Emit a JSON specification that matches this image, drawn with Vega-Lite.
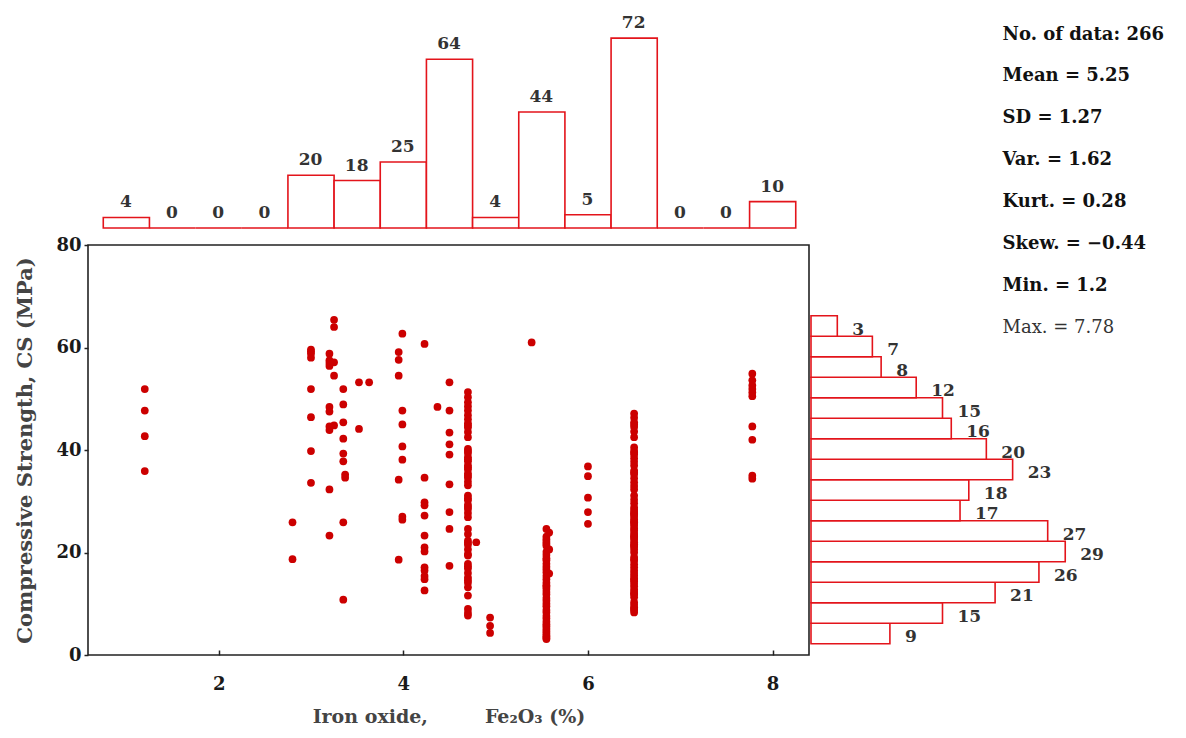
{
  "$schema": "https://vega.github.io/schema/vega-lite/v6.json",
  "background": "white",
  "padding": {"left": 14, "top": 14, "right": 5, "bottom": 5},
  "config": {
    "font": "DejaVu Serif",
    "view": {"stroke": null},
    "text": {"font": "DejaVu Serif"}
  },
  "datasets": {
    "points": [
      {"fe":1.2,"cs":51.9},{"fe":1.2,"cs":47.7},{"fe":1.2,"cs":42.7},{"fe":1.2,"cs":35.9},
      {"fe":2.8,"cs":25.9},{"fe":2.8,"cs":18.7},
      {"fe":3.0,"cs":59.6},{"fe":3.0,"cs":59.2},{"fe":3.0,"cs":58.8},{"fe":3.0,"cs":58.0},{"fe":3.0,"cs":51.9},{"fe":3.0,"cs":46.4},{"fe":3.0,"cs":39.8},{"fe":3.0,"cs":33.6},
      {"fe":3.2,"cs":58.8},{"fe":3.2,"cs":57.5},{"fe":3.2,"cs":57.0},{"fe":3.2,"cs":56.4},{"fe":3.2,"cs":48.4},{"fe":3.2,"cs":47.5},{"fe":3.2,"cs":44.6},{"fe":3.2,"cs":43.9},{"fe":3.2,"cs":32.3},{"fe":3.2,"cs":23.3},
      {"fe":3.25,"cs":65.4},{"fe":3.25,"cs":64.0},{"fe":3.25,"cs":57.1},{"fe":3.25,"cs":54.5},{"fe":3.25,"cs":44.8},
      {"fe":3.35,"cs":51.9},{"fe":3.35,"cs":48.9},{"fe":3.35,"cs":45.4},{"fe":3.35,"cs":42.2},{"fe":3.35,"cs":39.3},{"fe":3.35,"cs":37.8},{"fe":3.37,"cs":35.2},{"fe":3.37,"cs":34.6},{"fe":3.35,"cs":25.9},{"fe":3.35,"cs":10.8},
      {"fe":3.52,"cs":53.2},{"fe":3.52,"cs":44.1},
      {"fe":3.63,"cs":53.2},
      {"fe":3.95,"cs":59.1},{"fe":3.95,"cs":57.6},{"fe":3.95,"cs":54.5},{"fe":3.95,"cs":34.2},{"fe":3.95,"cs":18.6},
      {"fe":3.99,"cs":62.7},{"fe":3.99,"cs":47.7},{"fe":3.99,"cs":45.0},{"fe":3.99,"cs":40.7},{"fe":3.99,"cs":38.1},{"fe":3.99,"cs":27.0},{"fe":3.99,"cs":26.4},
      {"fe":4.23,"cs":60.7},{"fe":4.23,"cs":34.6},{"fe":4.23,"cs":29.8},{"fe":4.23,"cs":29.2},{"fe":4.23,"cs":27.2},{"fe":4.23,"cs":23.3},{"fe":4.23,"cs":21.0},{"fe":4.23,"cs":20.2},{"fe":4.23,"cs":17.1},{"fe":4.23,"cs":16.5},{"fe":4.23,"cs":15.4},{"fe":4.23,"cs":14.8},{"fe":4.23,"cs":12.6},
      {"fe":4.37,"cs":48.4},
      {"fe":4.5,"cs":53.2},{"fe":4.5,"cs":47.7},{"fe":4.5,"cs":43.4},{"fe":4.5,"cs":41.1},{"fe":4.5,"cs":39.1},{"fe":4.5,"cs":33.3},{"fe":4.5,"cs":27.9},{"fe":4.5,"cs":24.6},{"fe":4.5,"cs":17.4},
      {"fe":4.7,"cs":51.3},{"fe":4.7,"cs":50.3},{"fe":4.7,"cs":49.3},{"fe":4.7,"cs":48.5},{"fe":4.7,"cs":47.7},{"fe":4.7,"cs":46.8},{"fe":4.7,"cs":46.0},{"fe":4.7,"cs":45.2},{"fe":4.7,"cs":44.8},{"fe":4.7,"cs":44.4},
      {"fe":4.7,"cs":43.5},{"fe":4.7,"cs":42.5},{"fe":4.7,"cs":40.2},{"fe":4.7,"cs":39.8},{"fe":4.7,"cs":39.4},{"fe":4.7,"cs":38.6},{"fe":4.7,"cs":38.2},{"fe":4.7,"cs":37.8},{"fe":4.7,"cs":37.0},{"fe":4.7,"cs":36.6},
      {"fe":4.7,"cs":36.2},{"fe":4.7,"cs":35.4},{"fe":4.7,"cs":35.0},{"fe":4.7,"cs":34.6},{"fe":4.7,"cs":33.8},{"fe":4.7,"cs":33.1},{"fe":4.7,"cs":31.1},{"fe":4.7,"cs":30.6},{"fe":4.7,"cs":30.2},{"fe":4.7,"cs":29.3},
      {"fe":4.7,"cs":28.9},{"fe":4.7,"cs":28.5},{"fe":4.7,"cs":27.7},{"fe":4.7,"cs":26.9},{"fe":4.7,"cs":24.6},{"fe":4.7,"cs":23.6},{"fe":4.7,"cs":22.3},{"fe":4.7,"cs":21.9},{"fe":4.7,"cs":21.5},{"fe":4.7,"cs":20.6},
      {"fe":4.7,"cs":19.7},{"fe":4.7,"cs":19.4},{"fe":4.7,"cs":17.8},{"fe":4.7,"cs":17.3},{"fe":4.7,"cs":16.9},{"fe":4.7,"cs":16.0},{"fe":4.7,"cs":15.1},{"fe":4.7,"cs":14.6},{"fe":4.7,"cs":14.1},{"fe":4.7,"cs":13.2},
      {"fe":4.7,"cs":11.6},{"fe":4.7,"cs":9.0},{"fe":4.7,"cs":8.2},{"fe":4.7,"cs":7.7},
      {"fe":4.79,"cs":22.0},
      {"fe":4.94,"cs":7.3},{"fe":4.94,"cs":5.7},{"fe":4.94,"cs":4.3},
      {"fe":5.39,"cs":61.0},
      {"fe":5.55,"cs":24.6},{"fe":5.58,"cs":23.9},{"fe":5.55,"cs":23.1},{"fe":5.55,"cs":22.6},{"fe":5.55,"cs":22.1},{"fe":5.55,"cs":21.7},{"fe":5.55,"cs":21.3},{"fe":5.58,"cs":20.6},{"fe":5.55,"cs":20.1},{"fe":5.55,"cs":19.5},
      {"fe":5.55,"cs":18.9},{"fe":5.55,"cs":18.5},{"fe":5.55,"cs":17.8},{"fe":5.55,"cs":17.2},{"fe":5.55,"cs":16.7},{"fe":5.55,"cs":16.1},{"fe":5.58,"cs":15.9},{"fe":5.55,"cs":15.4},{"fe":5.55,"cs":14.8},{"fe":5.55,"cs":14.1},
      {"fe":5.55,"cs":13.6},{"fe":5.55,"cs":13.3},{"fe":5.55,"cs":12.9},{"fe":5.55,"cs":12.3},{"fe":5.55,"cs":11.8},{"fe":5.55,"cs":11.1},{"fe":5.55,"cs":10.6},{"fe":5.55,"cs":10.0},{"fe":5.55,"cs":9.5},{"fe":5.55,"cs":8.8},
      {"fe":5.55,"cs":8.3},{"fe":5.55,"cs":7.6},{"fe":5.55,"cs":7.1},{"fe":5.55,"cs":6.5},{"fe":5.55,"cs":6.0},{"fe":5.55,"cs":5.6},{"fe":5.55,"cs":5.1},{"fe":5.55,"cs":4.7},{"fe":5.55,"cs":4.3},{"fe":5.55,"cs":3.9},
      {"fe":5.55,"cs":3.6},{"fe":5.55,"cs":3.3},{"fe":5.55,"cs":3.1},
      {"fe":6.0,"cs":36.8},{"fe":6.0,"cs":34.9},{"fe":6.0,"cs":30.7},{"fe":6.0,"cs":27.9},{"fe":6.0,"cs":25.6},
      {"fe":6.5,"cs":47.1},{"fe":6.5,"cs":46.3},{"fe":6.5,"cs":45.4},{"fe":6.5,"cs":45.0},{"fe":6.5,"cs":44.5},{"fe":6.5,"cs":43.6},{"fe":6.5,"cs":42.5},{"fe":6.5,"cs":40.5},{"fe":6.5,"cs":39.8},{"fe":6.5,"cs":39.5},
      {"fe":6.5,"cs":39.1},{"fe":6.5,"cs":38.4},{"fe":6.5,"cs":37.7},{"fe":6.5,"cs":37.0},{"fe":6.5,"cs":36.0},{"fe":6.5,"cs":35.6},{"fe":6.5,"cs":35.3},{"fe":6.5,"cs":34.5},{"fe":6.5,"cs":33.7},{"fe":6.5,"cs":33.0},
      {"fe":6.5,"cs":32.3},{"fe":6.5,"cs":31.1},{"fe":6.5,"cs":30.3},{"fe":6.5,"cs":29.6},{"fe":6.5,"cs":28.8},{"fe":6.5,"cs":28.3},{"fe":6.5,"cs":27.9},{"fe":6.5,"cs":27.6},{"fe":6.5,"cs":27.4},{"fe":6.5,"cs":27.0},
      {"fe":6.5,"cs":26.5},{"fe":6.5,"cs":26.1},{"fe":6.5,"cs":25.9},{"fe":6.5,"cs":25.6},{"fe":6.5,"cs":25.2},{"fe":6.5,"cs":24.7},{"fe":6.5,"cs":24.3},{"fe":6.5,"cs":23.8},{"fe":6.5,"cs":23.4},{"fe":6.5,"cs":23.1},
      {"fe":6.5,"cs":22.9},{"fe":6.5,"cs":22.5},{"fe":6.5,"cs":22.0},{"fe":6.5,"cs":21.6},{"fe":6.5,"cs":21.3},{"fe":6.5,"cs":21.1},{"fe":6.5,"cs":20.6},{"fe":6.5,"cs":20.0},{"fe":6.5,"cs":19.1},{"fe":6.5,"cs":18.7},
      {"fe":6.5,"cs":18.4},{"fe":6.5,"cs":17.7},{"fe":6.5,"cs":17.1},{"fe":6.5,"cs":16.5},{"fe":6.5,"cs":16.0},{"fe":6.5,"cs":15.5},{"fe":6.5,"cs":15.0},{"fe":6.5,"cs":14.7},{"fe":6.5,"cs":14.4},{"fe":6.5,"cs":13.9},
      {"fe":6.5,"cs":13.4},{"fe":6.5,"cs":12.8},{"fe":6.5,"cs":12.3},{"fe":6.5,"cs":12.0},{"fe":6.5,"cs":11.8},{"fe":6.5,"cs":11.25},{"fe":6.5,"cs":10.3},{"fe":6.5,"cs":9.8},{"fe":6.5,"cs":9.3},{"fe":6.5,"cs":9.0},
      {"fe":6.5,"cs":8.8},{"fe":6.5,"cs":8.3},
      {"fe":7.78,"cs":54.9},{"fe":7.78,"cs":53.6},{"fe":7.78,"cs":52.6},{"fe":7.78,"cs":51.9},{"fe":7.78,"cs":51.2},{"fe":7.78,"cs":50.5},{"fe":7.78,"cs":44.6},{"fe":7.78,"cs":42.0},{"fe":7.78,"cs":35.0},{"fe":7.78,"cs":34.4}
    ],
    "feHist": [
      {"bin_start":0.745,"bin_end":1.245,"count":4},
      {"bin_start":1.245,"bin_end":1.745,"count":0},
      {"bin_start":1.745,"bin_end":2.245,"count":0},
      {"bin_start":2.245,"bin_end":2.745,"count":0},
      {"bin_start":2.745,"bin_end":3.245,"count":20},
      {"bin_start":3.245,"bin_end":3.745,"count":18},
      {"bin_start":3.745,"bin_end":4.245,"count":25},
      {"bin_start":4.245,"bin_end":4.745,"count":64},
      {"bin_start":4.745,"bin_end":5.245,"count":4},
      {"bin_start":5.245,"bin_end":5.745,"count":44},
      {"bin_start":5.745,"bin_end":6.245,"count":5},
      {"bin_start":6.245,"bin_end":6.745,"count":72},
      {"bin_start":6.745,"bin_end":7.245,"count":0},
      {"bin_start":7.245,"bin_end":7.745,"count":0},
      {"bin_start":7.745,"bin_end":8.245,"count":10}
    ],
    "csHist": [
      {"bin_start":2.3,"bin_end":6.3,"count":9},
      {"bin_start":6.3,"bin_end":10.3,"count":15},
      {"bin_start":10.3,"bin_end":14.3,"count":21},
      {"bin_start":14.3,"bin_end":18.3,"count":26},
      {"bin_start":18.3,"bin_end":22.3,"count":29},
      {"bin_start":22.3,"bin_end":26.3,"count":27},
      {"bin_start":26.3,"bin_end":30.3,"count":17},
      {"bin_start":30.3,"bin_end":34.3,"count":18},
      {"bin_start":34.3,"bin_end":38.3,"count":23},
      {"bin_start":38.3,"bin_end":42.3,"count":20},
      {"bin_start":42.3,"bin_end":46.3,"count":16},
      {"bin_start":46.3,"bin_end":50.3,"count":15},
      {"bin_start":50.3,"bin_end":54.3,"count":12},
      {"bin_start":54.3,"bin_end":58.3,"count":8},
      {"bin_start":58.3,"bin_end":62.3,"count":7},
      {"bin_start":62.3,"bin_end":66.3,"count":3}
    ],
    "stats": [
      {"row":1,"stat":"No. of data: 266"},
      {"row":2,"stat":"Mean = 5.25"},
      {"row":3,"stat":"SD = 1.27"},
      {"row":4,"stat":"Var. = 1.62"},
      {"row":5,"stat":"Kurt. = 0.28"},
      {"row":6,"stat":"Skew. = −0.44"},
      {"row":7,"stat":"Min. = 1.2"},
      {"row":8,"stat":"Max. = 7.78"}
    ]
  },
  "columns": 2,
  "spacing": {"row": 17, "column": 2},
  "bounds": "flush",
  "align": "each",
  "concat": [
    {
      "width": 721,
      "height": 211,
      "data": {"name": "feHist"},
      "layer": [
        {
          "mark": {"type": "rect", "fill": "white", "stroke": "#e3141b", "strokeWidth": 1.6},
          "encoding": {
            "x": {"field": "bin_start", "bin": "binned", "type": "quantitative", "scale": {"domain": [0.585, 8.394], "nice": false, "zero": false}, "axis": null},
            "x2": {"field": "bin_end"},
            "y": {"field": "count", "type": "quantitative", "scale": {"domain": [0, 80], "nice": false}, "axis": null},
            "y2": {"datum": 0}
          }
        },
        {
          "transform": [{"calculate": "(datum.bin_start + datum.bin_end) / 2", "as": "bin_mid"}],
          "mark": {"type": "text", "baseline": "alphabetic", "dy": -10, "fontWeight": "bold", "fontSize": 17, "color": "#333333"},
          "encoding": {
            "x": {"field": "bin_mid", "type": "quantitative"},
            "y": {"field": "count", "type": "quantitative"},
            "text": {"field": "count", "type": "quantitative"}
          }
        }
      ]
    },
    {
      "width": 263,
      "height": 211,
      "data": {"name": "stats"},
      "layer": [
        {
          "transform": [{"filter": "datum.row < 8"}],
          "mark": {"type": "text", "align": "left", "baseline": "alphabetic", "fontWeight": "bold", "fontSize": 18, "color": "#111111"},
          "encoding": {
            "x": {"datum": 21.85, "type": "quantitative", "scale": {"domain": [0, 30], "nice": false}, "axis": null},
            "y": {"field": "row", "type": "quantitative", "scale": {"domain": [0.46, 5.5], "reverse": true, "zero": false, "nice": false}, "axis": null},
            "text": {"field": "stat"}
          }
        },
        {
          "transform": [{"filter": "datum.row == 8"}],
          "mark": {"type": "text", "align": "left", "baseline": "alphabetic", "fontWeight": "normal", "fontSize": 18, "color": "#333333"},
          "encoding": {
            "x": {"datum": 21.85, "type": "quantitative"},
            "y": {"field": "row", "type": "quantitative"},
            "text": {"field": "stat"}
          }
        }
      ]
    },
    {
      "width": 721,
      "height": 410,
      "data": {"name": "points"},
      "view": {"stroke": "#222222", "strokeWidth": 1.6},
      "mark": {"type": "circle", "color": "#cc0000", "opacity": 1, "size": 60},
      "encoding": {
        "x": {
          "field": "fe", "type": "quantitative",
          "scale": {"domain": [0.585, 8.394], "nice": false, "zero": false},
          "axis": {
            "values": [2, 4, 6, 8], "title": "Iron oxide,\u2003\u2003\u2003Fe₂O₃ (%)",
            "domain": false, "grid": false, "tickSize": -5, "tickColor": "#222222", "tickWidth": 1.5,
            "labelFont": "DejaVu Serif", "labelFontWeight": "bold", "labelFontSize": 18, "labelColor": "#1a1a1a", "labelPadding": 25,
            "titleFont": "DejaVu Serif", "titleFontWeight": "bold", "titleFontSize": 19, "titleColor": "#444444", "titlePadding": 14
          }
        },
        "y": {
          "field": "cs", "type": "quantitative",
          "scale": {"domain": [0, 80], "nice": false},
          "axis": {
            "values": [0, 20, 40, 60, 80], "title": "Compressive Strength, CS (MPa)",
            "domain": false, "grid": false, "tickSize": 4, "tickColor": "#222222", "tickWidth": 1.5,
            "labelFont": "DejaVu Serif", "labelFontWeight": "bold", "labelFontSize": 18, "labelColor": "#1a1a1a", "labelPadding": 3,
            "titleFont": "DejaVu Serif", "titleFontWeight": "bold", "titleFontSize": 21, "titleColor": "#444444", "titlePadding": 20
          }
        }
      }
    },
    {
      "width": 263,
      "height": 410,
      "data": {"name": "csHist"},
      "layer": [
        {
          "mark": {"type": "rect", "fill": "white", "stroke": "#e3141b", "strokeWidth": 1.6},
          "encoding": {
            "y": {"field": "bin_start", "bin": "binned", "type": "quantitative", "scale": {"domain": [0, 80], "nice": false}, "axis": null},
            "y2": {"field": "bin_end"},
            "x": {"field": "count", "type": "quantitative", "scale": {"domain": [0, 30], "nice": false}, "axis": null},
            "x2": {"datum": 0}
          }
        },
        {
          "mark": {"type": "text", "align": "left", "baseline": "alphabetic", "dx": 15, "dy": -1, "fontWeight": "bold", "fontSize": 17, "color": "#333333"},
          "encoding": {
            "y": {"field": "bin_start", "type": "quantitative"},
            "x": {"field": "count", "type": "quantitative"},
            "text": {"field": "count", "type": "quantitative"}
          }
        }
      ]
    }
  ]
}
